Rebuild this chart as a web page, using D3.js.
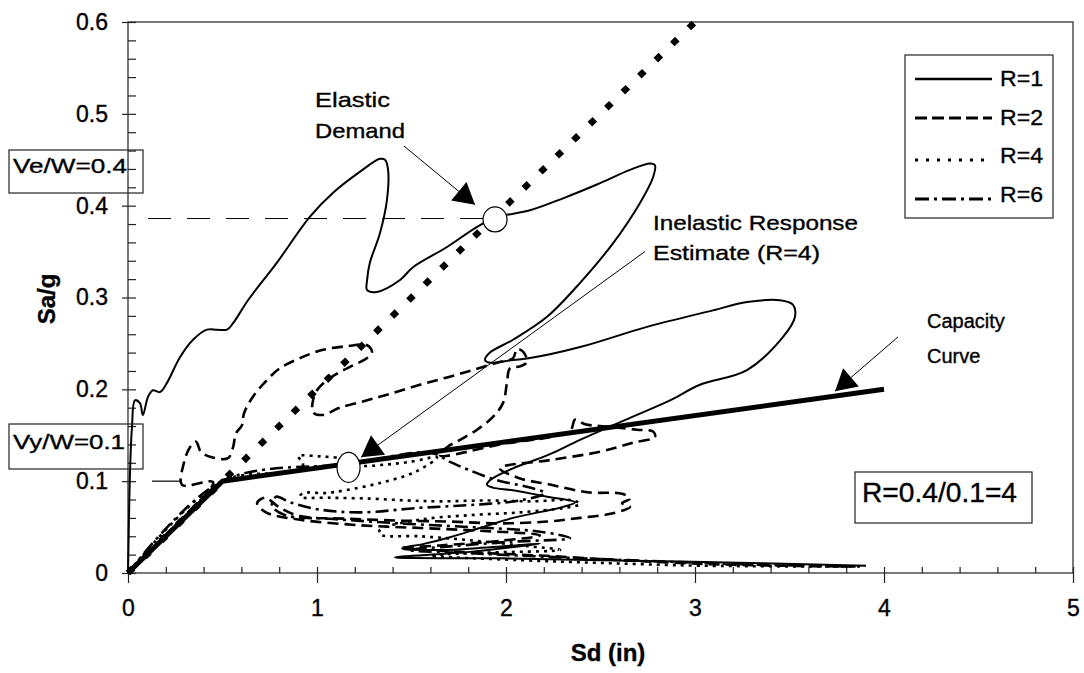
<!DOCTYPE html>
<html><head><meta charset="utf-8">
<script src="https://cdn.jsdelivr.net/npm/d3@7"></script>
<style>
body{margin:0;background:#fff}
text{font-family:"Liberation Sans",Arial,sans-serif;fill:#000;stroke:#000;stroke-width:0.35px}
</style>
</head><body>
<svg id="c" width="1084" height="673"></svg>
<script>
// ---------- data ----------
const xTickValues=[0,1,2,3,4,5];
const xTickLabels=["0","1","2","3","4","5"];
const yTickValues=[0,0.1,0.2,0.3,0.4,0.5,0.6];
const yTickLabels=["0","0.1","0.2","0.3","0.4","0.5","0.6"];
const seriesNames=["R=1","R=2","R=4","R=6"];

const r1=[[0,0],[0.005,0.058],[0.011,0.112],[0.021,0.159],[0.037,0.188],[0.063,0.185],[0.079,0.172],[0.106,0.192],[0.132,0.199],[0.169,0.197],[0.206,0.207],[0.275,0.235],[0.344,0.254],[0.418,0.265],[0.471,0.265],[0.524,0.265],[0.556,0.272],[0.635,0.297],[0.788,0.338],[0.963,0.388],[1.085,0.414],[1.228,0.437],[1.333,0.451],[1.360,0.450],[1.376,0.439],[1.370,0.406],[1.333,0.370],[1.280,0.338],[1.265,0.319],[1.265,0.308],[1.317,0.306],[1.439,0.319],[1.508,0.333],[1.688,0.355],[1.847,0.377],[1.942,0.387],[2.005,0.390],[2.127,0.395],[2.302,0.408],[2.481,0.423],[2.656,0.439],[2.762,0.446],[2.788,0.444],[2.778,0.431],[2.709,0.403],[2.566,0.359],[2.392,0.316],[2.217,0.279],[2.037,0.254],[1.915,0.240],[1.889,0.232],[1.915,0.229],[2.037,0.232],[2.127,0.234],[2.392,0.246],[2.746,0.268],[3.095,0.286],[3.275,0.295],[3.450,0.297],[3.519,0.292],[3.529,0.279],[3.466,0.257],[3.275,0.221],[3.026,0.205],[2.868,0.188],[2.656,0.169],[2.392,0.145],[2.217,0.128],[2.037,0.114],[1.915,0.101],[1.899,0.096],[1.931,0.093],[2.037,0.090],[2.217,0.083],[2.365,0.077],[2.302,0.072],[2.037,0.060],[1.862,0.049],[1.704,0.039],[1.571,0.032],[1.450,0.027],[1.651,0.025],[1.915,0.028],[2.180,0.032],[1.810,0.023],[1.413,0.017],[1.968,0.016],[2.497,0.014],[3.291,0.011],[3.905,0.008]];

const r2=[[0,0],[0.249,0.052],[0.450,0.099],[0.286,0.096],[0.296,0.120],[0.328,0.137],[0.360,0.143],[0.386,0.132],[0.444,0.126],[0.529,0.125],[0.556,0.137],[0.571,0.152],[0.603,0.161],[0.614,0.174],[0.661,0.192],[0.735,0.210],[0.804,0.223],[0.910,0.234],[1.032,0.243],[1.159,0.247],[1.265,0.248],[1.291,0.241],[1.265,0.234],[1.190,0.226],[1.122,0.219],[1.053,0.210],[1.000,0.199],[0.979,0.188],[0.979,0.175],[1.026,0.172],[1.122,0.180],[1.265,0.188],[1.402,0.196],[1.545,0.205],[1.688,0.213],[1.825,0.221],[1.952,0.229],[2.037,0.234],[2.058,0.244],[2.090,0.241],[2.111,0.230],[2.074,0.225],[2.021,0.223],[2.005,0.207],[1.984,0.185],[1.931,0.170],[1.847,0.156],[1.757,0.145],[1.688,0.137],[1.651,0.128],[1.968,0.140],[2.339,0.155],[2.365,0.167],[2.418,0.162],[2.566,0.159],[2.693,0.156],[2.778,0.154],[2.788,0.148],[2.672,0.142],[2.497,0.132],[2.233,0.123],[1.968,0.114],[2.074,0.103],[2.217,0.097],[2.429,0.088],[2.619,0.086],[2.656,0.081],[2.614,0.076],[2.656,0.072],[2.566,0.065],[2.392,0.060],[2.217,0.056],[1.968,0.054],[1.704,0.056],[1.439,0.057],[1.175,0.059],[0.910,0.062],[0.804,0.071],[0.725,0.082],[0.683,0.076],[0.730,0.066],[0.910,0.058],[1.228,0.052],[1.545,0.049],[1.862,0.046],[2.180,0.041],[1.968,0.035],[1.651,0.030],[1.439,0.027],[1.757,0.023],[2.180,0.019],[2.603,0.014],[3.026,0.010],[3.450,0.008],[3.873,0.007]];

const r4=[[0,0],[0.497,0.100],[0.910,0.112],[0.926,0.120],[0.899,0.127],[1.016,0.127],[1.148,0.124],[1.228,0.117],[1.360,0.118],[1.492,0.121],[1.635,0.126],[1.519,0.110],[1.333,0.098],[1.148,0.090],[1.042,0.087],[0.926,0.087],[0.910,0.083],[1.069,0.082],[1.280,0.081],[1.476,0.079],[1.651,0.078],[1.899,0.079],[2.127,0.078],[2.354,0.079],[2.392,0.075],[2.312,0.071],[2.074,0.066],[1.810,0.063],[1.545,0.058],[1.333,0.047],[1.333,0.042],[1.545,0.040],[1.794,0.036],[2.074,0.030],[2.286,0.025],[1.862,0.022],[1.598,0.019],[2.074,0.014],[2.497,0.011],[3.026,0.008],[3.873,0.007]];

const r6=[[0,0],[0.497,0.100],[1.175,0.119],[1.600,0.131],[1.704,0.121],[1.794,0.113],[1.952,0.101],[2.127,0.093],[2.206,0.087],[2.074,0.079],[1.810,0.074],[1.545,0.071],[1.228,0.066],[1.016,0.069],[0.857,0.077],[0.783,0.083],[0.762,0.073],[0.831,0.063],[1.069,0.059],[1.439,0.054],[1.810,0.050],[2.180,0.045],[2.339,0.038],[2.021,0.034],[1.704,0.029],[1.492,0.025],[1.862,0.021],[2.286,0.017],[2.762,0.013],[3.344,0.009],[3.820,0.007]];

const capacityCurve=[[0,0],[0.5,0.1],[4,0.2]];
const elasticDemand=[[0,0],[3,0.6]];
const elasticPoint=[1.942,0.385];
const inelasticPoint=[1.167,0.115];
const veLine=[[0.106,0.386],[1.878,0.386]];
const vyLine=[[0.127,0.1],[0.28,0.1]];
// arrows: [tail, tip] in data units
const arrowElastic=[[1.460,0.465],[1.836,0.401]];
const arrowInelastic=[[2.735,0.350],[1.233,0.126]];
const arrowCapacity=[[4.074,0.257],[3.741,0.198]];

// ---------- chart ----------
const svg=d3.select("#c");
const x=d3.scaleLinear([0,5],[128,1073]);
const y=d3.scaleLinear([0,0.6],[573,22]);

const styles={
  "R=1":{w:2,dash:null},
  "R=2":{w:2.6,dash:"11,6"},
  "R=4":{w:2.6,dash:"3,5"},
  "R=6":{w:2.6,dash:"13,5,3,5"}
};
const seriesData={"R=1":r1,"R=2":r2,"R=4":r4,"R=6":r6};

const smooth=d3.line().x(d=>x(d[0])).y(d=>y(d[1])).curve(d3.curveCatmullRom.alpha(0.5));
const straight=d3.line().x(d=>x(d[0])).y(d=>y(d[1]));

// frame
svg.append("rect").attr("x",x(0)).attr("y",y(0.6)).attr("width",x(5)-x(0)).attr("height",y(0)-y(0.6))
  .attr("fill","none").attr("stroke","#222").attr("stroke-width",1.2);

// axes
const yOuter=svg.append("g").attr("transform",`translate(${x(0)},0)`)
  .call(d3.axisLeft(y).tickValues(yTickValues).tickSize(6).tickPadding(14).tickFormat((d,i)=>yTickLabels[i]));
const yInner=svg.append("g").attr("transform",`translate(${x(0)},0)`)
  .call(d3.axisRight(y).tickValues(d3.range(0,0.6001,0.02)).tickSize(8).tickFormat(""));
const xOuter=svg.append("g").attr("transform",`translate(0,${y(0)})`)
  .call(d3.axisBottom(x).tickValues(xTickValues).tickSize(10).tickPadding(17).tickFormat((d,i)=>xTickLabels[i]));
const xInner=svg.append("g").attr("transform",`translate(0,${y(0)})`)
  .call(d3.axisTop(x).tickValues(d3.range(0,5.001,0.2)).tickSize(6).tickFormat(""));
[yOuter,yInner,xOuter,xInner].forEach(g=>{
  g.select(".domain").remove();
  g.selectAll("line").attr("stroke","#222").attr("stroke-width",1.2);
  g.selectAll("text").style("font-family",'"Liberation Sans",Arial,sans-serif').style("font-size","23px").attr("fill","#000");
});

// axis titles
svg.append("text").attr("x",608).attr("y",661).attr("text-anchor","middle")
  .style("font-size","24px").style("font-weight","bold").text("Sd (in)");
svg.append("text").attr("transform","translate(55,299) rotate(-90)").attr("text-anchor","middle")
  .style("font-size","24px").style("font-weight","bold").text("Sa/g");

// series
seriesNames.slice().reverse().forEach(n=>{
  svg.append("path").attr("d",smooth(seriesData[n])).attr("fill","none").attr("stroke","#000")
    .attr("stroke-width",styles[n].w).attr("stroke-dasharray",styles[n].dash).attr("stroke-linejoin","round");
});

// capacity curve
svg.append("path").attr("d",straight(capacityCurve)).attr("fill","none").attr("stroke","#000").attr("stroke-width",5);
// elastic demand
svg.append("path").attr("d",straight(elasticDemand)).attr("fill","none").attr("stroke","#000")
  .attr("stroke-width",6.5).attr("stroke-dasharray","7,16");

// reference lines
svg.append("path").attr("d",straight(veLine)).attr("fill","none").attr("stroke","#000").attr("stroke-width",1).attr("stroke-dasharray","23,16");
svg.append("path").attr("d",straight(vyLine)).attr("fill","none").attr("stroke","#000").attr("stroke-width",1.2);

// circles
svg.append("ellipse").attr("cx",x(elasticPoint[0])).attr("cy",y(elasticPoint[1])).attr("rx",12).attr("ry",12.5)
  .attr("fill","#fff").attr("stroke","#000").attr("stroke-width",1.2);
svg.append("ellipse").attr("cx",x(inelasticPoint[0])).attr("cy",y(inelasticPoint[1])).attr("rx",11.5).attr("ry",15)
  .attr("fill","#fff").attr("stroke","#000").attr("stroke-width",1.2);

// arrows
svg.append("defs").append("marker").attr("id","tri").attr("markerUnits","userSpaceOnUse")
  .attr("viewBox","-22 -13 24 26").attr("refX",0).attr("refY",0).attr("markerWidth",24).attr("markerHeight",26)
  .attr("orient","auto").append("path").attr("d","M0,0 L-21,-12 L-21,12 Z").attr("fill","#000");
[arrowElastic,arrowInelastic,arrowCapacity].forEach(a=>{
  svg.append("line").attr("x1",x(a[0][0])).attr("y1",y(a[0][1])).attr("x2",x(a[1][0])).attr("y2",y(a[1][1]))
    .attr("stroke","#000").attr("stroke-width",1).attr("marker-end","url(#tri)");
});

// annotation texts [label, x, y, font size, textLength]
const ann=[["Elastic",315,107,21,75],["Demand",315,138,21,90],["Inelastic Response",653,230,21,205],["Estimate (R=4)",653,260,21,167],["Capacity",927,328,20,null],["Curve",927,363,20,null]];
ann.forEach(a=>{
  const t=svg.append("text").attr("x",a[1]).attr("y",a[2]).style("font-size",a[3]+"px").text(a[0]);
  if(a[4]) t.attr("textLength",a[4]).attr("lengthAdjust","spacingAndGlyphs");
});

// boxed labels
function box(x0,y0,w,h,label,tx,ty,fs,tl){
  svg.append("rect").attr("x",x0).attr("y",y0).attr("width",w).attr("height",h).attr("fill","none").attr("stroke","#222").attr("stroke-width",1.2);
  const t=svg.append("text").attr("x",tx).attr("y",ty).style("font-size",fs+"px").text(label);
  if(tl) t.attr("textLength",tl).attr("lengthAdjust","spacingAndGlyphs");
}
box(9,150,134,43,"Ve/W=0.4",13,173,21,114);
box(9,424,134,45,"Vy/W=0.1",13,449,21,112);
box(855,472,177,51,"R=0.4/0.1=4",862,502,27,155);

// legend
const lg=svg.append("g");
lg.append("rect").attr("x",905).attr("y",55).attr("width",148).attr("height",163).attr("fill","#fff").attr("stroke","#222").attr("stroke-width",1.2);
const legY=[79,118,160,199], legT=[86,125,163,202];
seriesNames.forEach((n,i)=>{
  lg.append("line").attr("x1",915).attr("x2",992).attr("y1",legY[i]).attr("y2",legY[i]).attr("stroke","#000")
    .attr("stroke-width",n==="R=1"?2.5:3).attr("stroke-dasharray",n==="R=2"?"12,5":n==="R=4"?"3,8":n==="R=6"?"14,5,3,5":null);
  lg.append("text").attr("x",1000).attr("y",legT[i]).style("font-size","22px").attr("textLength",43).attr("lengthAdjust","spacingAndGlyphs").text(n);
});
</script>
</body></html>
